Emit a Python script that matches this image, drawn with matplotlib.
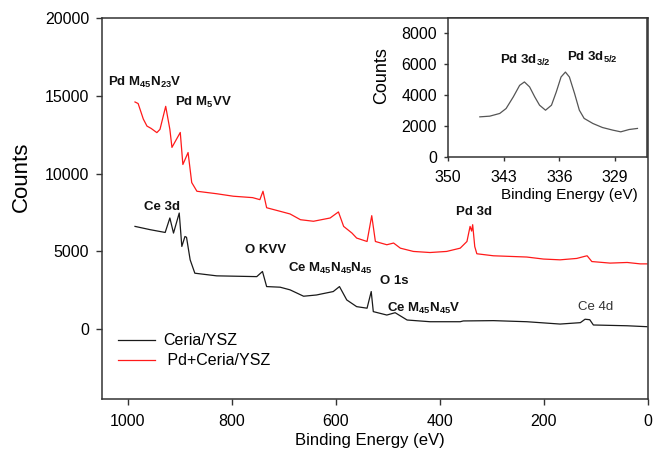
import matplotlib
matplotlib.use('Agg')
from matplotlib import pyplot as plt

plt.rcParams['font.family'] = ['Liberation Sans', 'DejaVu Sans']
plt.rcParams['mathtext.fontset'] = 'custom'
plt.rcParams['mathtext.rm'] = 'Liberation Sans'
plt.rcParams['mathtext.bf'] = 'Liberation Sans:bold'
plt.rcParams['mathtext.default'] = 'regular'

# survey spectrum, Pd+Ceria/YSZ (red)
pd_energy = [986, 980, 975, 970, 963, 955, 944, 938, 927, 919, 915, 899, 894, 884, 877, 867,
             829, 797, 760, 746, 740, 733, 707, 688, 668, 643, 611, 595, 585, 569, 560,
             540, 531, 524, 502, 489, 476, 451, 419, 387, 361, 348, 342, 339, 337, 333,
             329, 297, 233, 201, 169, 137, 121, 117, 108, 73, 40, 15, 2]
pd_counts = [14600, 14500, 14000, 13500, 13050, 12900, 12630, 12840, 14320, 12840, 11680, 12640,
             10580, 11350, 9420, 8860, 8700, 8540, 8450, 8320, 8860, 7800, 7570, 7400, 7030,
             6930, 7140, 7530, 6600, 6170, 5850, 5630, 7290, 5630, 5420, 5530, 5200, 4990,
             4920, 4990, 5200, 5630, 6600, 6300, 6710, 5300, 4840, 4710, 4630, 4500, 4450,
             4540, 4680, 4710, 4340, 4240, 4280, 4190, 4190]

# survey spectrum, Ceria/YSZ (black)
ce_energy = [986, 957, 928, 919, 912, 901, 896, 890, 887, 880, 871, 829, 752, 741, 733,
             707, 688, 662, 637, 630, 605, 593, 579, 560, 540, 532, 528, 502, 486, 463,
             419, 361, 355, 297, 233, 169, 130, 121, 112, 105, 40, 2]
ce_counts = [6600, 6390, 6210, 7140, 6170, 7460, 5310, 5950, 5900, 4450, 3590, 3420, 3370,
             3700, 2730, 2690, 2520, 2110, 2190, 2240, 2410, 2730, 1870, 1440, 1340, 2410,
             1120, 900, 1050, 580, 470, 470, 520, 540, 470, 320, 410, 630, 600, 260, 210, 150]

# Pd 3d high resolution (inset)
hr_energy = [346.0, 344.75, 343.5, 342.7, 341.8, 341.0, 340.4, 339.75, 339.1, 338.5, 337.75,
             337.0, 336.4, 335.8, 335.25, 334.75, 334.1, 333.5, 332.9, 331.8, 330.6, 329.3,
             328.3, 327.25, 326.2]
hr_counts = [2600, 2645, 2820, 3140, 3890, 4640, 4860, 4540, 3890, 3355, 3030, 3355, 4210,
             5180, 5500, 5180, 4110, 3030, 2500, 2170, 1910, 1740, 1630, 1780, 1850]

main_xticks = [1000, 800, 600, 400, 200, 0]
main_yticks = [0, 5000, 10000, 15000, 20000]
inset_xticks = [350, 343, 336, 329]
inset_yticks = [0, 2000, 4000, 6000, 8000]

fig = plt.figure(figsize=(6.63, 4.63), dpi=100)
ax = fig.add_axes([0.1534, 0.1382, 0.824, 0.8229])

ax.plot(ce_energy, ce_counts, color='#1a1a1a', lw=0.9, label='Ceria/YSZ')
ax.plot(pd_energy, pd_counts, color='#ff1a1a', lw=0.9, label=' Pd+Ceria/YSZ')

ax.set_xlim(1050, 0)
ax.set_ylim(-4500, 20000)
ax.set_xticks(main_xticks)
ax.set_yticks(main_yticks)
ax.tick_params(labelsize=11.5, length=4, width=1, color='#333333')
ax.tick_params(axis='x', pad=7)
ax.tick_params(axis='y', pad=5)
for s in ax.spines.values():
    s.set_color('#333333')
    s.set_linewidth(1.1)

ax.set_ylabel('Counts', fontsize=16)
ax.yaxis.set_label_coords(-0.1276, 0.583)
ax.set_xlabel('Binding Energy (eV)', fontsize=12)
ax.xaxis.set_label_coords(0.49, -0.09)

leg = ax.legend(loc='upper left', bbox_to_anchor=(0.03, 0.172), frameon=False,
                fontsize=11.5, handlelength=2.3, handletextpad=0.5, labelspacing=0.3,
                borderpad=0, borderaxespad=0)

note = dict(fontsize=9.5, fontweight='bold', ha='left', va='center', color='#111111')
ax.text(1038, 15870, r'Pd M$_{45}$N$_{23}$V', **note)
ax.text(909, 14580, r'Pd M$_{5}$VV', **note)
ax.text(969, 7870, 'Ce 3d', **note)
ax.text(774, 5100, 'O KVV', **note)
ax.text(692, 3870, r'Ce M$_{45}$N$_{45}$N$_{45}$', **note)
ax.text(515, 3100, 'O 1s', **note)
ax.text(501, 1350, r'Ce M$_{45}$N$_{45}$V', **note)
ax.text(369, 7550, 'Pd 3d', **note)
ax.text(134, 1420, 'Ce 4d', fontsize=9.5, ha='left', va='center', color='#333333')

# inset
ins = fig.add_axes([0.6757, 0.6609, 0.3002, 0.3002])
ins.plot(hr_energy, hr_counts, color='#555555', lw=0.9)
ins.set_xlim(350, 325)
ins.set_ylim(0, 9000)
ins.set_xticks(inset_xticks)
ins.set_yticks(inset_yticks)
ins.tick_params(labelsize=11.5, length=3, width=1, color='#333333')
ins.tick_params(axis='x', pad=6)
ins.tick_params(axis='y', pad=5)
for s in ins.spines.values():
    s.set_color('#333333')
    s.set_linewidth(1.1)
ins.set_ylabel('Counts', fontsize=13)
ins.yaxis.set_label_coords(-0.29, 0.583)
ins.set_xlabel('Binding Energy (eV)', fontsize=11)
ins.xaxis.set_label_coords(0.61, -0.223)
ins.text(343.5, 6260, r'Pd 3d$_{3/2}$', **note)
ins.text(335.1, 6450, r'Pd 3d$_{5/2}$', **note)

fig.savefig('out.png', dpi=100)
